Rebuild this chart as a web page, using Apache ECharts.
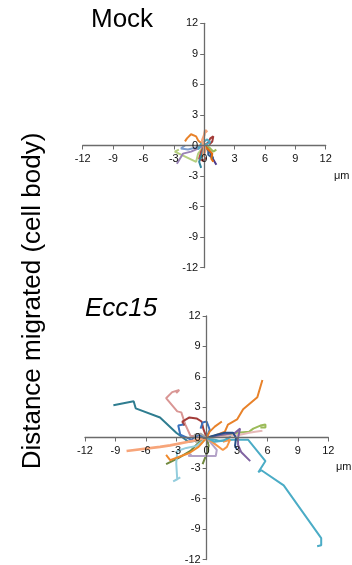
<!DOCTYPE html>
<html><head><meta charset="utf-8">
<script src="https://cdn.jsdelivr.net/npm/echarts@6/dist/echarts.min.js"></script>
<style>html,body{margin:0;padding:0;background:#fff}#c{width:352px;height:565px}</style>
</head><body><div id="c"></div>
<script>
// ---- axis ticks ----
const tickMin = -12, tickMax = 12, tickStep = 3;
const unitLabel = 'μm';
const yTitle = 'Distance migrated (cell body)';
const panelTitles = ['Mock', 'Ecc15'];

// ---- Mock tracks (x, y in μm) ----
const mockOrangeArc = [[0,0],[-0.6,0.5],[-0.8,0.9],[-1.3,1.1],[-1.7,0.7],[-1.9,0.4]];
const mockPeach = [[0,0],[0.1,-0.5],[-0.1,-1.1],[0,-0.3],[-0.2,0.5],[0,1.0],[0.1,1.5],[0.3,1.3]];
const mockRed = [[0,0],[0.4,0.3],[0.6,0.7],[0.9,0.9],[0.8,0.4],[0.5,0.1]];
const mockRed2 = [[0,0],[-0.3,-0.6],[-0.5,-1.3],[-0.1,-1.5],[0.2,-1.2]];
const mockGreen = [[0,0],[-0.6,-0.8],[-0.8,-1.6],[-2.9,-0.6],[-2.5,-0.4]];
const mockPurple = [[0,0],[-0.6,-0.3],[-1.3,-0.6],[-2.1,-0.8],[-2.7,-1.8]];
const mockLightBlue = [[0,0],[-0.8,-0.2],[-1.6,-0.4],[-2.3,-0.3],[-1.9,0]];
const mockNavy = [[0,0],[0.5,-0.5],[0.8,-1.2],[1.2,-1.9]];
const mockCyan = [[0,0],[-0.2,-0.8],[-0.5,-1.6],[-0.3,-2.2]];
const mockOrange2 = [[0,0],[0.4,-0.4],[0.8,-0.8],[0.7,-1.3],[0.9,-1.6]];
const mockBlue = [[0,0],[0.4,-0.5],[0.4,-0.9],[0.9,-1.3],[0.6,-0.6]];
const mockTeal = [[0,0],[0.6,0.3],[0.3,0.6],[-0.3,0.2],[-0.6,-0.4]];
const mockGreen2 = [[0,0],[0.5,-0.2],[0.9,-0.6],[1.2,-0.4]];

// ---- Ecc15 tracks (x, y in μm) ----
const eccTeal = [[0,0],[-1.0,-0.3],[-1.8,-0.4],[-3.0,0.5],[-4.6,2.0],[-7.0,2.9],[-7.2,3.6],[-9.2,3.2]];
const eccCyan = [[0,0],[1.2,-0.3],[2.6,-0.2],[4.1,-0.2],[5.8,-2.3],[5.1,-3.4],[5.4,-3.2],[7.6,-4.7],[11.3,-9.9],[11.3,-10.6],[10.9,-10.7]];
const eccOrange = [[0,0],[0.8,0.2],[1.8,0.6],[2.1,1.3],[3.0,1.8],[3.6,2.8],[5.0,4.0],[5.5,5.7]];
const eccPink = [[0,0],[-1.6,0.2],[-2.1,1.3],[-2.5,2.5],[-2.9,2.6],[-4.0,3.9],[-3.4,4.5],[-2.7,4.7],[-3.0,4.4]];
const eccRed = [[0,0],[-0.3,0.8],[-0.5,1.6],[-1.0,1.9],[-1.7,2.0],[-2.4,1.6],[-2.2,1.2]];
const eccBlue = [[0,0],[-0.8,0.3],[-1.5,-0.2],[-2.6,0.3],[-2.8,1.2],[-2.3,1.3]];
const eccBlue2 = [[0,0],[0.3,0.8],[0,1.6],[-0.4,1.5],[-0.6,0.9]];
const eccGreen = [[0,0],[1.5,0.2],[3.0,0.5],[4.2,0.6],[4.6,0.9],[5.3,1.2],[5.8,1.3],[5.8,1.0],[5.3,1.0]];
const eccGreenLeft = [[0,0],[-0.7,-0.4],[-1.6,-1.3],[-2.8,-2.0],[-4.0,-2.6]];
const eccGreenDown = [[0,0],[0.2,-0.8],[0,-1.6],[-0.4,-2.6]];
const eccSalmon = [[0,0],[-1.3,-0.3],[-3.6,-0.75],[-4.6,-0.9],[-7.9,-1.3]];
const eccLightPink = [[0,0],[1.5,0.1],[3.3,0.3],[4.2,0.5],[4.8,0.6],[5.5,0.7]];
const eccPurple = [[0,0],[1.5,0.3],[2.8,0.5],[3.3,0.9],[3.1,0],[3.1,-0.7],[3.4,-1.4],[4.3,-2.3]];
const eccLightBlue = [[0,0],[-1.0,-0.8],[-2.0,-1.0],[-2.9,-1.3],[-3.0,-2.5],[-2.9,-4.1],[-3.3,-4.3],[-2.6,-3.9]];
const eccLavender = [[0,0],[0.5,-0.6],[1.0,-1.2],[0.9,-1.8],[-0.5,-1.8],[-1.8,-1.8],[-1.5,-1.6]];
const eccNavy = [[0,0],[1.0,0.3],[1.8,0.5],[2.6,0.5],[2.9,0],[2.8,-0.8],[3.0,-1.2]];
const eccOrange2 = [[0,0],[-0.8,-0.9],[-1.7,-1.5],[-3.6,-2.2],[-4.0,-1.7]];
const eccOrange3 = [[0,0],[0.3,0.6],[0.8,1.1],[1.5,1.6]];
const eccOrange4 = [[0,0],[0.8,-0.6],[1.6,-1.2],[2.0,-0.9],[2.3,-0.2],[1.6,-0.4]];
const eccTeal2 = [[0,0],[0.8,-0.4],[1.6,-0.3],[2.4,0.1]];
const eccGray = [[0,0],[-0.6,0.4],[-1.2,0.3],[-1.0,-0.5]];

const mockTracks = [
  [mockLightBlue,'#7F9FCF'],[mockGreen,'#B5CF7F'],[mockPurple,'#9983B5'],[mockOrangeArc,'#E8822A'],
  [mockRed,'#A33B38'],[mockRed2,'#B8463F'],[mockTeal,'#4BACC6'],[mockGreen2,'#9BBB59'],
  [mockNavy,'#4D3B8C'],[mockBlue,'#376092'],[mockCyan,'#31859C'],[mockOrange2,'#E46C0A'],[mockPeach,'#F7A57A']
];
const eccTracks = [
  [eccTeal,'#2F7D90'],[eccCyan,'#4BACC6'],[eccOrange,'#E8822A'],[eccPink,'#D99694'],[eccRed,'#A33B38'],
  [eccBlue,'#3B73BF'],[eccBlue2,'#3B73BF'],[eccGreen,'#9BBB59'],[eccGreenLeft,'#71893F'],[eccGreenDown,'#71893F'],
  [eccLightPink,'#E6B9B8'],[eccPurple,'#8064A2'],[eccLightBlue,'#93CDDD'],[eccLavender,'#B3A2C7'],
  [eccNavy,'#264E86'],[eccOrange2,'#F08A2C'],[eccOrange3,'#E8822A'],[eccOrange4,'#F79646'],
  [eccTeal2,'#4BACC6'],[eccGray,'#A5A5A5'],[eccSalmon,'#F7A57A']
];

const grids = [
  {left: 82.7, top: 23.3, width: 243, height: 244.4},
  {left: 85, top: 316, width: 243.3, height: 244}
];

const font = 'Liberation Sans, Arial, sans-serif';
function mkAxis(i, isX) {
  const g = grids[i];
  return {
    type: 'value', gridIndex: i, min: tickMin, max: tickMax, interval: tickStep,
    position: isX ? 'bottom' : 'left',
    // place the axis through the origin of the other axis
    offset: isX ? -g.height / 2 : -g.width / 2,
    z: 5,
    splitLine: {show: false},
    axisLine: {onZero: false, lineStyle: {color: '#6b6b6b', width: 1.3}},
    axisTick: {show: true, length: 4, lineStyle: {color: '#6b6b6b'}},
    axisLabel: {color: '#111', fontSize: 11, fontFamily: font, margin: isX ? 8 : 6}
  };
}
const xAxes = [0,1].map(i => mkAxis(i, true));
const yAxes = [0,1].map(i => mkAxis(i, false));

const series = [];
[mockTracks, eccTracks].forEach((tracks, gi) => {
  tracks.forEach(([pts, col]) => {
    series.push({
      type: 'line', xAxisIndex: gi, yAxisIndex: gi, data: pts,
      showSymbol: false, symbol: 'none', silent: true,
      lineStyle: {color: col, width: col === '#F7A57A' ? 2.6 : 2}, z: 1
    });
  });
});

const chart = echarts.init(document.getElementById('c'), null, {renderer: 'canvas'});
chart.setOption({
  animation: false,
  backgroundColor: '#fff',
  grid: grids,
  xAxis: xAxes,
  yAxis: yAxes,
  series: series,
  graphic: [
    {type: 'text', left: 91, top: 7, style: {text: panelTitles[0], font: '26px ' + font, fill: '#000'}},
    {type: 'text', left: 85, top: 296, style: {text: panelTitles[1], font: 'italic 26px ' + font, fill: '#000'}},
    {type: 'text', x: 33, y: 301, rotation: Math.PI / 2, style: {text: yTitle, font: '26px ' + font, fill: '#000', textAlign: 'center', textVerticalAlign: 'middle'}},
    {type: 'text', x: 334, y: 176, style: {text: unitLabel, font: '11px ' + font, fill: '#111', textVerticalAlign: 'middle'}},
    {type: 'text', x: 336, y: 467, style: {text: unitLabel, font: '11px ' + font, fill: '#111', textVerticalAlign: 'middle'}}
  ]
});
</script></body></html>
